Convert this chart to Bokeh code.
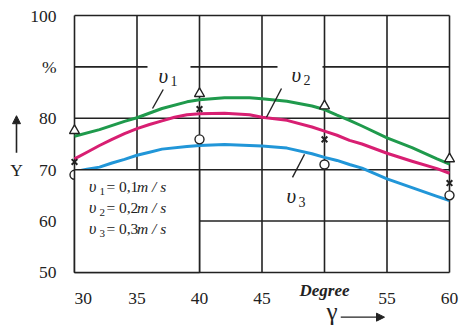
from bokeh.plotting import figure
from bokeh.models import FixedTicker, Label, Arrow, NormalHead, Range1d
from bokeh.embed import file_html
from bokeh.resources import INLINE

# ---- data ----
x_v1 = [30, 32, 34, 35, 37, 39, 40, 42, 44, 45, 47, 49, 50, 51, 52, 53, 55, 57, 59, 60]
v1_curve = [76.5, 77.8, 79.4, 80.1, 81.9, 83.2, 83.6, 84.0, 84.0, 83.8, 83.3, 82.4, 81.7, 80.6, 79.6, 78.5, 76.2, 74.3, 72.1, 71.1]
x_v2 = [30, 31, 32, 33, 34, 35, 36, 37, 38, 39, 40, 42, 44, 45, 46, 47, 49, 50, 51, 52, 53, 55, 57, 59, 60]
v2_curve = [72.1, 73.4, 74.7, 75.9, 77.0, 78.0, 78.8, 79.5, 80.2, 80.7, 80.9, 81.0, 80.7, 80.2, 79.9, 79.6, 78.3, 77.5, 76.7, 75.7, 75.0, 73.2, 71.65, 70.2, 69.3]
x_v3 = [30, 31, 32, 33, 34, 35, 36, 37, 39, 40, 42, 44, 45, 47, 49, 50, 51, 52, 53, 55, 57, 59, 60]
v3_curve = [69.6, 70.1, 70.5, 71.3, 72.0, 72.8, 73.4, 74.0, 74.5, 74.7, 74.9, 74.7, 74.6, 74.2, 73.1, 72.4, 71.8, 71.0, 70.3, 68.2, 66.5, 64.8, 64.0]

x_meas = [30, 40, 50, 60]
v1_meas = [77.6, 84.8, 82.4, 72.1]
v2_meas = [71.5, 81.8, 75.9, 67.4]
v3_meas = [69.0, 75.9, 71.0, 65.0]

x_ticks = [30, 35, 40, 45, 50, 55, 60]
x_tick_labels = {30: "\u2007\u200730", 35: "35", 40: "40", 45: "45", 50: " ", 55: "55", 60: "60"}
y_ticks = [50, 60, 70, 80, 90, 100]
y_tick_labels = {50: "50", 60: "60", 70: "70", 80: "80", 90: "%", 100: "100"}
x_min, x_max = 30, 60
y_min, y_max = 50, 100

legend_subs = ["1", "2", "3"]
legend_vals = ["= 0,1", "= 0,2", "= 0,3"]

GREEN = "#1f9a4c"
PINK = "#d81f72"
BLUE = "#2196d8"
SERIF = "Liberation Serif"
INK = "#222222"
LW = 1.6

p = figure(x_range=Range1d(24.08, 60.8), y_range=Range1d(38.9, 102.92),
           frame_width=459, frame_height=329,
           min_border_left=0, min_border_right=0, min_border_top=0, min_border_bottom=0,
           output_backend="svg", toolbar_location=None)
p.background_fill_color = "white"
p.border_fill_color = "white"
p.outline_line_color = None
p.xgrid.visible = False
p.ygrid.visible = False

# axes, pinned to the chart box edges
for ax in (p.xaxis[0], p.yaxis[0]):
    ax.axis_line_color = None
    ax.major_tick_line_color = None
    ax.minor_tick_line_color = None
    ax.major_label_text_font = SERIF
    ax.major_label_text_font_size = "17.5px"
    ax.major_label_text_color = INK
p.xaxis[0].fixed_location = y_min
p.xaxis[0].ticker = FixedTicker(ticks=x_ticks)
p.xaxis[0].major_label_overrides = x_tick_labels
p.xaxis[0].major_label_standoff = 10
p.yaxis[0].fixed_location = x_min
p.yaxis[0].ticker = FixedTicker(ticks=y_ticks)
p.yaxis[0].major_label_overrides = y_tick_labels
p.yaxis[0].major_label_standoff = 12

# grid lines
gx = [t for t in x_ticks if x_min < t < x_max]
p.segment(x0=gx, y0=[y_min] * len(gx), x1=gx, y1=[y_max] * len(gx), line_color=INK, line_width=LW)
gy = [60, 70, 80]
p.segment(x0=[x_min] * len(gy), y0=gy, x1=[x_max] * len(gy), y1=gy, line_color=INK, line_width=LW)
# the 90 % line, interrupted around the curve names
p.segment(x0=[30, 39.28, 49.84], y0=[90, 90, 90], x1=[35.84, 46.24, 60], y1=[90, 90, 90],
          line_color=INK, line_width=LW)
# chart box
p.segment(x0=[x_min, x_max, x_min, x_min], y0=[y_min, y_min, y_min, y_max],
          x1=[x_min, x_max, x_max, x_max], y1=[y_max, y_max, y_min, y_max],
          line_color=INK, line_width=LW)

# curves
for xs, ys, col in ((x_v1, v1_curve, GREEN), (x_v2, v2_curve, PINK), (x_v3, v3_curve, BLUE)):
    p.line(xs, ys, line_color=col, line_width=3, line_join="round")

# measured points
p.scatter(x_meas, v1_meas, marker="triangle", size=10, fill_color="white", line_color=INK, line_width=1.4)
p.scatter(x_meas, v2_meas, marker="x", size=8, line_color=INK, line_width=2)
p.scatter(x_meas, v3_meas, marker="circle", size=9, fill_color="white", line_color=INK, line_width=1.4)

# legend box
p.quad(left=[30], right=[40], bottom=[50], top=[70], fill_color="white", line_color=INK, line_width=LW)

row_y = [66.73, 62.65, 58.56]
for sub, val, yy in zip(legend_subs, legend_vals, row_y):
    p.add_layout(Label(x=31.15, y=yy, text="υ", text_font=SERIF, text_font_style="italic",
                       text_font_size="16px", text_baseline="middle", text_color=INK))
    p.add_layout(Label(x=32.0, y=yy - 0.9, text=sub, text_font=SERIF,
                       text_font_size="11px", text_baseline="middle", text_color=INK))
    p.add_layout(Label(x=32.55, y=yy, text=val, text_font=SERIF,
                       text_font_size="15.5px", text_baseline="middle", text_color=INK))
    p.add_layout(Label(x=35.0, y=yy, text="m / s", text_font=SERIF, text_font_style="italic",
                       text_font_size="15.5px", text_baseline="middle", text_color=INK))

# curve names with leader lines
names = [("1", 36.72, 88.3), ("2", 47.36, 88.5), ("3", 46.96, 64.8)]
for sub, xx, yy in names:
    p.add_layout(Label(x=xx, y=yy, text="υ", text_font=SERIF, text_font_style="italic",
                       text_font_size="21px", text_baseline="middle", text_color=INK))
    p.add_layout(Label(x=xx + 0.95, y=yy - 1.0, text=sub, text_font=SERIF,
                       text_font_size="14px", text_baseline="middle", text_color=INK))
p.segment(x0=[37.1, 46.56, 48.4], y0=[85.6, 85.8, 73.0], x1=[36.24, 45.36, 47.44], y1=[81.9, 80.2, 68.5],
          line_color=INK, line_width=1.4)

# axis names
p.add_layout(Label(x=50, y=46.5, text="Degree", text_font=SERIF, text_font_style="bold italic",
                   text_font_size="17px", text_align="center", text_baseline="middle", text_color=INK))
p.add_layout(Label(x=50.6, y=42.4, text="γ", text_font=SERIF,
                   text_font_size="25px", text_align="center", text_baseline="middle", text_color=INK))
p.add_layout(Arrow(x_start=51.3, y_start=41.3, x_end=54.8, y_end=41.3, line_width=1.3, line_color=INK,
                   end=NormalHead(size=8, fill_color=INK, line_color=INK)))
p.add_layout(Label(x=25.36, y=70.0, text="Y", text_font=SERIF,
                   text_font_size="17.5px", text_align="center", text_baseline="middle", text_color=INK))
p.add_layout(Arrow(x_start=25.36, y_start=73.3, x_end=25.36, y_end=80.5, line_width=1.6, line_color=INK,
                   end=NormalHead(size=8, fill_color=INK, line_color=INK)))

open("out.html", "w").write(file_html(p, INLINE))
